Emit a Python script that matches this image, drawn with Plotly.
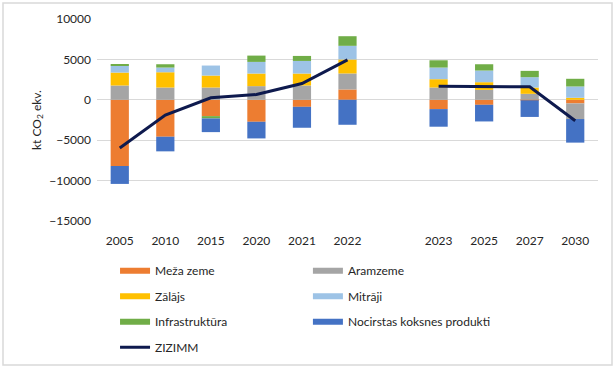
import plotly.graph_objects as go

categories = ["2005", "2010", "2015", "2020", "2021", "2022", " ", "2023", "2025", "2027", "2030"]

meza_zeme = [-8190, -4570, -2020, -2720, -870, 1280, None, -1150, -620, -60, -450]
aramzeme = [1770, 1520, 1520, 1690, 1770, 1980, None, 1520, 1230, 740, -1930]
zalajs = [1600, 1890, 1480, 1560, 1480, 1730, None, 1030, 950, 780, 250]
mitraji = [860, 580, 1240, 1440, 1560, 1690, None, 1440, 1440, 1280, 1400]
infrastruktura = [170, 410, -290, 780, 620, 1190, None, 900, 780, 780, 950]
hwp = [-2220, -1810, -1690, -2060, -2590, -3090, None, -2180, -2060, -2060, -2920]
zizimm = [-5970, -1890, 250, 660, 2020, 4950, None, 1690, 1690, 1600, -2600]

series = [
    ("Meža zeme", meza_zeme, "#ED7D31", "legend"),
    ("Aramzeme", aramzeme, "#A5A5A5", "legend2"),
    ("Zālājs", zalajs, "#FFC000", "legend"),
    ("Mitrāji", mitraji, "#9DC3E6", "legend2"),
    ("Infrastruktūra", infrastruktura, "#70AD47", "legend"),
    ("Nocirstas koksnes produkti", hwp, "#4472C4", "legend2"),
]

FONT = "Lato"
TXT = "#262626"
fig = go.Figure()

for name, vals, color, leg in series:
    fig.add_trace(go.Bar(x=categories, y=vals, name=name, marker_color=color,
                         marker_line_width=0, showlegend=False))

fig.add_trace(go.Scatter(x=categories, y=zizimm, name="ZIZIMM", mode="lines",
                         line=dict(color="#0E1A4E", width=3), connectgaps=False,
                         showlegend=False))

# legend entries
for name, vals, color, leg in series:
    fig.add_trace(go.Scatter(x=[None], y=[None], mode="lines", name=name,
                             line=dict(color=color, width=6), legend=leg,
                             legendgroup=name))
fig.add_trace(go.Scatter(x=[None], y=[None], mode="lines", name="ZIZIMM",
                         line=dict(color="#0E1A4E", width=3), legend="legend",
                         legendgroup="ZIZIMM"))

leg_common = dict(orientation="v", yanchor="top", xanchor="left",
                  bgcolor="rgba(0,0,0,0)", traceorder="grouped",
                  tracegroupgap=6.5, font=dict(family=FONT, size=12, color=TXT))

fig.update_layout(
    width=616, height=370,
    margin=dict(l=97, r=18, t=19, b=149, autoexpand=False),
    paper_bgcolor="white", plot_bgcolor="white",
    barmode="relative", bargap=0.6,
    font=dict(family=FONT, size=12, color=TXT),
    legend=dict(x=0.036, y=-0.174, **leg_common),
    legend2=dict(x=0.421, y=-0.174, **leg_common),
    xaxis=dict(type="category", categoryorder="array", categoryarray=categories,
               showgrid=False, showline=False, ticks="", tickfont=dict(size=12),
               ticklabelstandoff=11),
    yaxis=dict(range=[-15000, 10000], dtick=5000, tickformat="d", showgrid=True,
               gridcolor="#D9D9D9", gridwidth=1, zeroline=False, showline=False,
               ticks="", tickfont=dict(size=12), ticklabelstandoff=5,
               title=dict(text="kt CO<sub>2</sub> ekv.", font=dict(size=12), standoff=5)),
    shapes=[dict(type="rect", xref="paper", yref="paper",
                 x0=(3 - 97) / 501, x1=(612 - 97) / 501,
                 y0=(221 - 365) / 202, y1=(221 - 3) / 202,
                 line=dict(color="#D9D9D9", width=1.5), fillcolor="rgba(0,0,0,0)",
                 layer="below")],
)

fig.write_html("out.html", config={"displayModeBar": False},
               post_script="document.body.style.margin='0';document.body.style.overflow='hidden';")
